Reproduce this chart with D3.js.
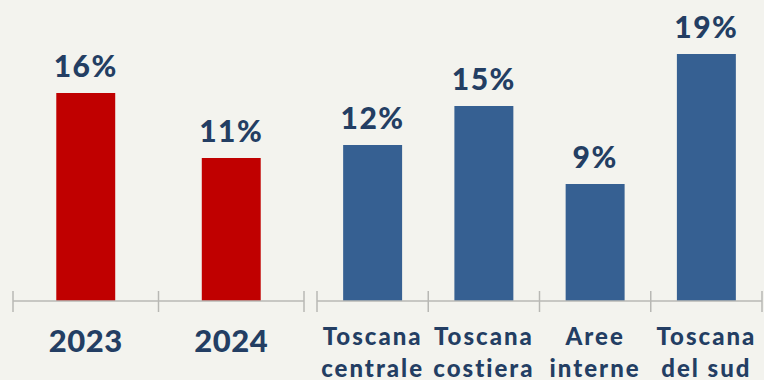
<!DOCTYPE html>
<html>
<head>
<meta charset="utf-8">
<script src="https://cdn.jsdelivr.net/npm/d3@7"></script>
<style>
  html, body { margin: 0; padding: 0; background: #F3F3EE; }
  svg { display: block; }
  text { font-family: Lato, "Open Sans", sans-serif; font-weight: 900; fill: #233E63; }
</style>
</head>
<body>
<svg id="chart" width="764" height="380"></svg>
<script>
// Yearly values
const years = ["2023", "2024"];
const yearValues = [16, 11];

// Values by area (two-line labels)
const areas = ["Toscana centrale", "Toscana costiera", "Aree interne", "Toscana del sud"];
const areaLines = [["Toscana", "centrale"], ["Toscana", "costiera"], ["Aree", "interne"], ["Toscana", "del sud"]];
const areaValues = [12, 15, 9, 19];

const svg = d3.select("#chart");
const baseY = 301;

const y = d3.scaleLinear().domain([0, 19]).range([baseY, 54]);

const xLeft = d3.scaleBand().domain(years).range([13, 304]).paddingInner(0.595).paddingOuter(0.2975);
const xRight = d3.scaleBand().domain(areas).range([317, 762]).paddingInner(0.47).paddingOuter(0.235);

function drawAxis(scale) {
  const [r0, r1] = scale.range();
  const g = svg.append("g").attr("stroke", "#B8B8B4").attr("stroke-width", 1.5);
  g.append("line").attr("x1", r0).attr("x2", r1).attr("y1", baseY).attr("y2", baseY);
  const n = scale.domain().length;
  const bounds = d3.range(n + 1).map(i => r0 + i * scale.step());
  g.selectAll("line.tick").data(bounds).join("line")
    .attr("class", "tick")
    .attr("x1", d => d).attr("x2", d => d)
    .attr("y1", baseY - 10).attr("y2", baseY + 11);
}

function drawBars(scale, cats, vals, color) {
  const data = cats.map((c, i) => ({ c, v: vals[i] }));
  svg.append("g").selectAll("rect").data(data).join("rect")
    .attr("x", d => scale(d.c))
    .attr("width", scale.bandwidth())
    .attr("y", d => y(d.v))
    .attr("height", d => baseY - y(d.v))
    .attr("fill", color);
  svg.append("g").selectAll("text").data(data).join("text")
    .attr("x", d => scale(d.c) + scale.bandwidth() / 2)
    .attr("y", d => y(d.v) - 16)
    .attr("text-anchor", "middle")
    .attr("font-size", 30)
    .attr("font-weight", 700)
    .attr("letter-spacing", 1.5)
    .text(d => d.v + "%");
}

drawBars(xLeft, years, yearValues, "#C00000");
drawBars(xRight, areas, areaValues, "#366092");
drawAxis(xLeft);
drawAxis(xRight);

// Category labels
svg.append("g").selectAll("text").data(years).join("text")
  .attr("x", d => xLeft(d) + xLeft.bandwidth() / 2)
  .attr("y", 352)
  .attr("text-anchor", "middle")
  .attr("font-size", 31)
  .attr("letter-spacing", 0.5)
  .text(d => d);

const areaLabels = svg.append("g").selectAll("text").data(areas).join("text")
  .attr("x", d => xRight(d) + xRight.bandwidth() / 2)
  .attr("text-anchor", "middle")
  .attr("font-size", 24)
  .attr("letter-spacing", 2);
areaLabels.each(function(d, i) {
  const t = d3.select(this);
  areaLines[i].forEach((line, j) => {
    t.append("tspan")
      .attr("x", xRight(d) + xRight.bandwidth() / 2)
      .attr("y", 345 + j * 32)
      .text(line);
  });
});
</script>
</body>
</html>
